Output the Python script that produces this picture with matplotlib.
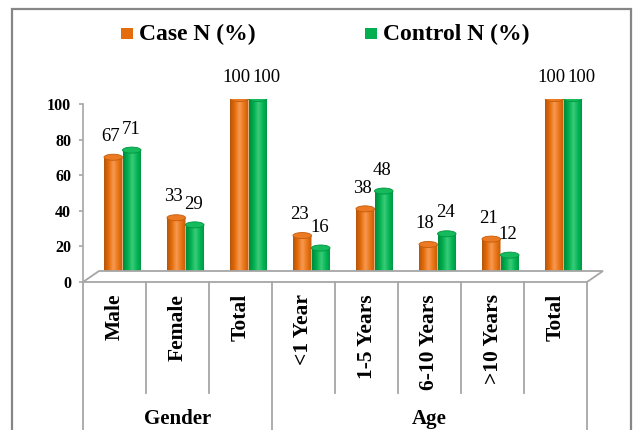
import numpy as np
import matplotlib
matplotlib.use("Agg")
import matplotlib.pyplot as plt
import matplotlib.transforms as mtransforms
from matplotlib.patches import Rectangle, Ellipse, Polygon, PathPatch
from matplotlib.path import Path
from matplotlib.lines import Line2D
from matplotlib.colors import LinearSegmentedColormap

plt.rcParams["font.family"] = ["Liberation Serif", "DejaVu Serif"]

categories = ["Male", "Female", "Total", "<1 Year", "1-5 Years",
              "6-10 Years", ">10 Years", "Total"]
group_names = ["Gender", "Age"]
group_sizes = [3, 5]
case_pct = [67, 33, 100, 23, 38, 18, 21, 100]
control_pct = [71, 29, 100, 16, 48, 24, 12, 100]
series_names = ["Case N (%)", "Control N (%)"]

ORANGE = "#E46C0A"
GREEN = "#00B050"
GRID = "#A6A6A6"

W, H = 633, 430
fig = plt.figure(figsize=(W / 100, H / 100), dpi=100)
PT = 72 / fig.dpi  # points per pixel


def fx(px):
    return px / W


def fy(py):
    return 1 - py / H


# front plane: value axis, floor and category dividers
X0, X1, Y0, Y1 = 83, 587, 282, 104
ax = fig.add_axes([fx(X0), fy(Y0), (X1 - X0) / W, (Y0 - Y1) / H])
ax.patch.set_alpha(0)
ax.set_xlim(0, len(categories))
ax.set_ylim(0, 100)
for s in ["top", "right", "bottom"]:
    ax.spines[s].set_visible(False)
ax.spines["left"].set_color(GRID)
ax.spines["left"].set_linewidth(1.2)
ax.set_xticks([])
ax.set_yticks(range(0, 101, 20))
ax.tick_params(axis="y", length=3, width=1.2, color=GRID, pad=5.5, labelsize=11.5)
for lab in ax.get_yticklabels():
    lab.set_fontweight("bold")

# floor (parallelogram going back into depth)
DEPTH_X, DEPTH_Y = 16, 11
to_fig = ax.transData + fig.transFigure.inverted()
front = to_fig.transform([(0, 0), (len(categories), 0)])
dx, dy = DEPTH_X / W, DEPTH_Y / H
floor = Polygon([front[0], front[1], front[1] + [dx, dy], front[0] + [dx, dy]],
                closed=True, facecolor="white", edgecolor=GRID, lw=1.3,
                transform=fig.transFigure, zorder=1)
fig.add_artist(floor)

# bars sit half way into the depth
BX, BY = DEPTH_X / 2, DEPTH_Y / 2
bax = fig.add_axes([fx(X0 + BX), fy(Y0 - BY), (X1 - X0) / W, (Y0 - Y1) / H])
bax.set_axis_off()
bax.patch.set_alpha(0)

cmap_orange = LinearSegmentedColormap.from_list(
    "o", ["#B5560A", "#E46C0A", "#F79A52", "#EA7516", "#C25B08"])
cmap_green = LinearSegmentedColormap.from_list(
    "g", ["#008A3C", "#00B050", "#3CCB78", "#00B555", "#00903F"])

bw = 0.294
eh = 3.4
grad = np.linspace(0, 1, 64).reshape(1, -1)


def cylinder(xc, v, cmap, cap, rim):
    x0, x1 = xc - bw / 2, xc + bw / 2
    t = np.linspace(np.pi, 2 * np.pi, 30)
    arc = np.column_stack([xc + bw / 2 * np.cos(t), eh / 2 * np.sin(t)])
    verts = np.vstack([[(x0, v)], arc, [(x1, v)], [(x0, v)]])
    outline = PathPatch(Path(verts, closed=True), transform=bax.transData,
                        facecolor="none", edgecolor="none")
    bax.add_patch(outline)
    im = bax.imshow(grad, extent=(x0, x1, -eh / 2, v), aspect="auto",
                    cmap=cmap, origin="lower", zorder=2, interpolation="bilinear")
    im.set_clip_path(outline)
    bax.add_patch(Ellipse((xc, v), bw, eh, facecolor=cap, edgecolor=rim,
                          lw=0.6, zorder=3))


pairs = []
for i, (a, b) in enumerate(zip(case_pct, control_pct)):
    c = i + 0.5
    cylinder(c - bw / 2, a, cmap_orange, "#EC7A22", "#C45C0A")
    cylinder(c + bw / 2, b, cmap_green, "#14BA5C", "#009640")
    left = bax.annotate(str(a), (c - bw / 2, a), xytext=(-3 * PT, 15),
                        textcoords="offset points", ha="center", va="center",
                        fontsize=13.5, zorder=4)
    right = bax.annotate(str(b), (c + bw / 2, b), xytext=(-2 * PT, 15),
                         textcoords="offset points", ha="center", va="center",
                         fontsize=13.5, zorder=4)
    pairs.append((left, right))

bax.set_xlim(0, len(categories))
bax.set_ylim(0, 100)

# push apart value labels that would collide
fig.canvas.draw()
renderer = fig.canvas.get_renderer()
for left, right in pairs:
    lb = left.get_window_extent(renderer)
    rb = right.get_window_extent(renderer)
    if rb.y0 < lb.y1 - 4 and rb.y1 > lb.y0 + 4:
        shift = lb.x1 + 2 - rb.x0
        if shift > 0:
            ox, oy = right.xyann
            right.xyann = (ox + shift * PT, oy)

# category labels and dividers under the floor
blend = mtransforms.blended_transform_factory(ax.transData, fig.transFigure)
for i, name in enumerate(categories):
    ax.text(i + 0.5, fy(294), name, transform=blend, rotation=90,
            ha="center", va="top", fontsize=15.5, fontweight="bold")

edges = np.concatenate([[0], np.cumsum(group_sizes)])
for i in range(len(categories) + 1):
    bottom = 440 if i in edges else 393
    fig.add_artist(Line2D([i, i], [fy(Y0), fy(bottom)], transform=blend,
                          color=GRID, lw=1.3))

for name, lo, hi in zip(group_names, edges[:-1], edges[1:]):
    ax.text((lo + hi) / 2, fy(419), name, transform=blend, ha="center",
            va="center", fontsize=15, fontweight="bold")

# legend
for (px, color, label) in [(121, ORANGE, series_names[0]),
                           (365, GREEN, series_names[1])]:
    fig.add_artist(Rectangle((fx(px), fy(39)), 12 / W, 11 / H, facecolor=color,
                             edgecolor="none", transform=fig.transFigure))
    fig.text(fx(px + 18), fy(34), label, ha="left", va="center",
             fontsize=17, fontweight="bold")

# chart border
fig.add_artist(Rectangle((fx(12), fy(445)), (631 - 12) / W, (445 - 9) / H,
                         fill=False, edgecolor="#868686", lw=1.6,
                         transform=fig.transFigure, clip_on=False))

fig.savefig("out.png", dpi=100)
